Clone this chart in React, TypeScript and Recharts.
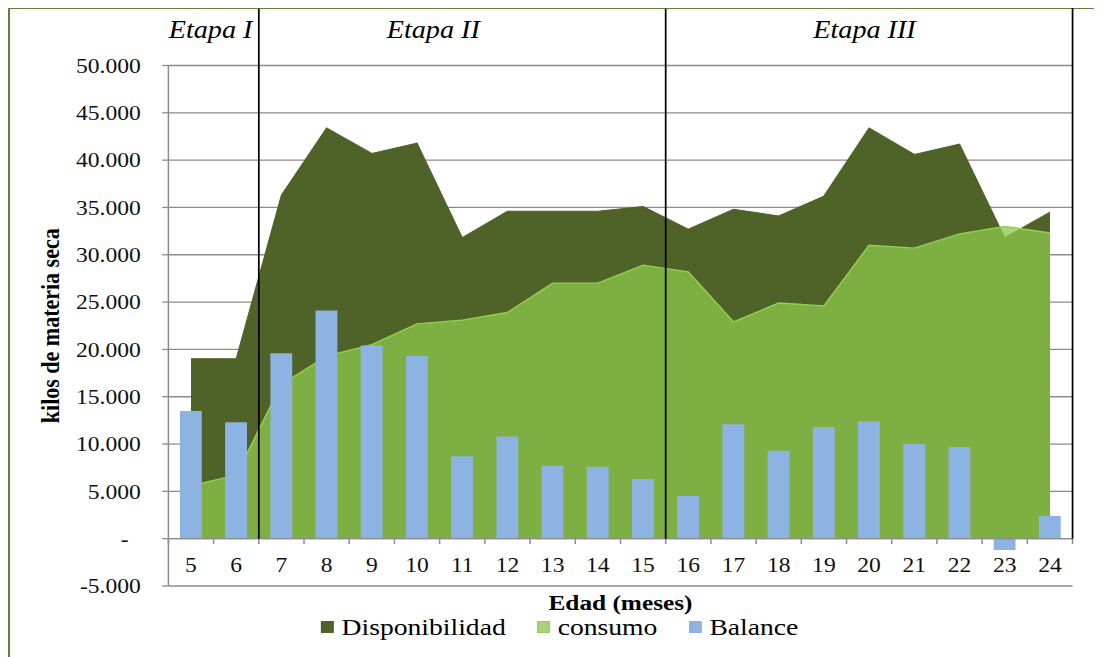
import {
  ComposedChart,
  Area,
  Bar,
  XAxis,
  YAxis,
  CartesianGrid,
  ReferenceLine,
  ReferenceArea,
} from 'recharts'

// edad en meses
const meses = ['5', '6', '7', '8', '9', '10', '11', '12', '13', '14', '15', '16', '17', '18', '19', '20', '21', '22', '23', '24']
// kilos de materia seca
const disponibilidad = [19000, 19000, 36300, 43400, 40700, 41800, 31800, 34600, 34600, 34600, 35100, 32700, 34800, 34100, 36200, 43400, 40600, 41700, 31800, 34500]
const consumo = [5600, 6700, 16300, 19300, 20500, 22700, 23100, 23900, 27000, 27000, 28900, 28200, 22900, 24900, 24600, 31000, 30700, 32200, 33000, 32300]
const balance = [13500, 12300, 19600, 24100, 20400, 19300, 8700, 10800, 7700, 7600, 6300, 4500, 12100, 9300, 11800, 12400, 10000, 9700, -1200, 2400]

const yTicks = [-5000, 0, 5000, 10000, 15000, 20000, 25000, 30000, 35000, 40000, 45000, 50000]

const etapas = ['Etapa I', 'Etapa II', 'Etapa III']
const etapaDesde = ['5', '7', '16']
const etapaHasta = ['6', '15', '24']

const rows = meses.map((mes, i) => ({
  mes,
  disponibilidad: disponibilidad[i],
  consumo: consumo[i],
  balance: balance[i],
}))

// the source picture is stretched sideways, so the whole chart is too
const S = 1102 / 958
const SERIF = 'Liberation Serif, serif'
const GRID = '#8c8c8c'
const etapaShift = [-2.6, -25.2, -4]

const fmt = (v: number) => (v === 0 ? '-' : `${v < 0 ? '-' : ''}${Math.abs(v) / 1000}.000`)

const AmountTick = (props: any) => {
  const { x, y, payload } = props
  return (
    <text
      x={payload.value === 0 ? x - 10.5 : x}
      y={y}
      dy="0.355em"
      textAnchor="end"
      fontSize={20.5}
      fontFamily={SERIF}
      fill="#111"
    >
      {fmt(payload.value)}
    </text>
  )
}

const MonthTick = (props: any) => {
  const { x, y, payload } = props
  return (
    <text x={x} y={y - 14} textAnchor="middle" fontSize={20.5} fontFamily={SERIF} fill="#111">
      {payload.value}
    </text>
  )
}

const legendItems = [
  { name: 'Disponibilidad', color: '#4f6228', border: '#4f6228' },
  { name: 'consumo', color: '#a8d27e', border: '#92d050' },
  { name: 'Balance', color: '#8db3e2', border: '#8db3e2' },
]

export default function App() {
  return (
    <div style={{ position: 'relative', width: 1102, height: 657, margin: '-8px 0 0 -8px', overflow: 'hidden', background: '#fff' }}>
      <div style={{ position: 'absolute', left: 8, top: 7, width: 1200, height: 800, border: '2px solid #5f7f3c' }} />
      <div style={{ position: 'absolute', left: 0, top: 0, width: 958, height: 657, transform: `scaleX(${S})`, transformOrigin: '0 0' }}>
        <ComposedChart
          width={958}
          height={657}
          data={rows}
          margin={{ top: 65.5, right: 25.6, bottom: 41, left: 8 }}
          barCategoryGap="25.5%"
        >
          <CartesianGrid vertical={false} stroke={GRID} strokeWidth={1.3} />
          <XAxis
            dataKey="mes"
            axisLine={false}
            tickLine={false}
            tickSize={0}
            tickMargin={0}
            height={30}
            interval={0}
            tick={<MonthTick />}
            label={{
              value: 'Edad (meses)',
              position: 'insideBottom',
              offset: 6,
              fontSize: 22,
              fontWeight: 'bold',
              fontFamily: SERIF,
              fill: '#000',
            }}
          />
          <YAxis
            width={138.4}
            domain={[-5000, 50000]}
            ticks={yTicks}
            interval={0}
            axisLine={{ stroke: GRID, strokeWidth: 1.3 }}
            tickLine={{ stroke: GRID, strokeWidth: 1.3 }}
            tickSize={5.5}
            tickMargin={18.5}
            tick={<AmountTick />}
            label={{
              value: 'kilos de materia seca',
              angle: -90,
              position: 'insideLeft',
              offset: 35.5,
              style: { textAnchor: 'middle' },
              fontSize: 22,
              fontWeight: 'bold',
              fontFamily: SERIF,
              fill: '#000',
            }}
          />
          <Area
            type="linear"
            dataKey="disponibilidad"
            name="Disponibilidad"
            fill="#4f6228"
            fillOpacity={1}
            stroke="#4f6228"
            strokeWidth={1}
            isAnimationActive={false}
          />
          <Area
            type="linear"
            dataKey="consumo"
            name="consumo"
            fill="#8cc84c"
            fillOpacity={0.76}
            stroke="#92d050"
            strokeWidth={1.4}
            isAnimationActive={false}
          />
          <Bar dataKey="balance" name="Balance" fill="#8db3e2" isAnimationActive={false} />
          <ReferenceLine y={0} stroke={GRID} strokeWidth={1.3} />
          {meses.map((m) => (
            <ReferenceLine
              key={'t' + m}
              segment={[{ x: m, y: 0 }, { x: m, y: -560 }]}
              position="start"
              ifOverflow="visible"
              stroke={GRID}
              strokeWidth={1.3}
            />
          ))}
          <ReferenceLine
            segment={[{ x: meses[meses.length - 1], y: 0 }, { x: meses[meses.length - 1], y: -560 }]}
            position="end"
            ifOverflow="visible"
            stroke={GRID}
            strokeWidth={1.3}
          />
          {etapaDesde.slice(1).map((m) => (
            <ReferenceLine
              key={'e' + m}
              segment={[{ x: m, y: 0 }, { x: m, y: 56000 }]}
              position="start"
              ifOverflow="visible"
              stroke="#000"
              strokeWidth={1.5}
            />
          ))}
          <ReferenceLine
            segment={[{ x: etapaHasta[2], y: 0 }, { x: etapaHasta[2], y: 56200 }]}
            position="end"
            ifOverflow="visible"
            stroke="#000"
            strokeWidth={1.5}
          />
          {etapas.map((e, i) => (
            <ReferenceArea
              key={e}
              x1={etapaDesde[i]}
              x2={etapaHasta[i]}
              y1={51500}
              y2={56200}
              ifOverflow="visible"
              fill="none"
              stroke="none"
              label={{
                value: e,
                position: 'center',
                dx: etapaShift[i],
                fontSize: 24.5,
                fontStyle: 'italic',
                fontFamily: SERIF,
                fill: '#000',
              }}
            />
          ))}
        </ComposedChart>
        <div
          style={{
            position: 'absolute',
            left: 320.7 / S,
            top: 615,
            display: 'flex',
            alignItems: 'center',
            gap: 27,
            fontFamily: SERIF,
            fontSize: 24,
            lineHeight: '24px',
            color: '#000',
            whiteSpace: 'nowrap',
          }}
        >
          {legendItems.map((it) => (
            <div key={it.name} style={{ display: 'flex', alignItems: 'center' }}>
              <span
                style={{
                  display: 'inline-block',
                  width: 11.5,
                  height: 12.5,
                  boxSizing: 'border-box',
                  background: it.color,
                  border: `1px solid ${it.border}`,
                  marginRight: 6.7,
                }}
              />
              {it.name}
            </div>
          ))}
        </div>
      </div>
    </div>
  )
}
